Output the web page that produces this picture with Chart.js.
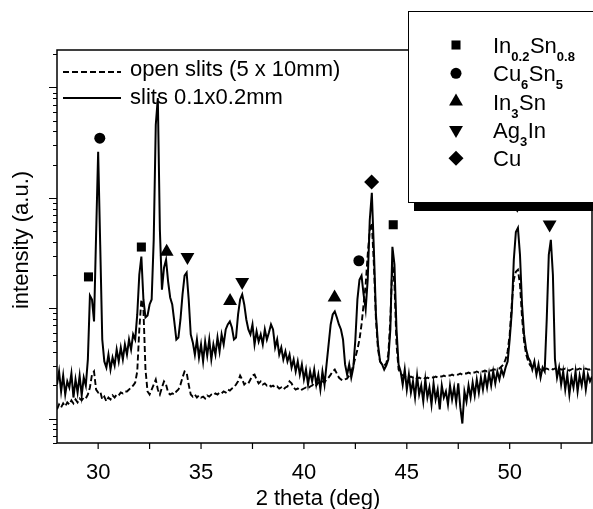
<!DOCTYPE html>
<html>
<head>
<meta charset="utf-8">
<script src="https://cdn.jsdelivr.net/npm/chart.js@4.4.1/dist/chart.umd.min.js"></script>
<style>
  html, body { margin: 0; padding: 0; background: #fff; }
  canvas { display: block; }
</style>
</head>
<body>
<canvas id="xrdChart" width="593" height="509"></canvas>
<script>
// both scans sampled from 28.0 to 54.0 deg, 0.1 deg apart
const thetaStart = 28.0;
const thetaStep = 0.1;

// slits 0.1x0.2mm (solid line), one row per degree (x.0 .. x.9)
const slitsNarrow = [
  2.03, 2.67, 1.76, 2.45, 1.65, 2.17, 1.91, 2.56, 1.55, 2.26, // 28
  1.72, 2.45, 1.62, 2.35, 1.99, 3.43, 13.0, 12.0, 7.58, 46.0, // 29
  261, 37.5, 5.20, 3.29, 2.90, 3.80, 2.78, 3.57, 3.02, 4.22,  // 30
  3.29, 4.40, 3.43, 4.69, 3.80, 5.20, 4.22, 5.78, 5.20, 8.77, // 31
  20.1, 29.3, 12.0, 8.24, 8.59, 10.8, 12.0, 41.6, 458, 803,   // 32
  51.1, 14.7, 23.3, 27.5, 17.4, 12.5, 10.8, 7.58, 5.20, 5.42, // 33
  7.90, 13.3, 19.7, 21.0, 12.0, 5.78, 4.89, 3.80, 5.20, 3.57, // 34
  4.69, 3.29, 4.99, 3.72, 5.20, 3.43, 4.69, 3.80, 5.42, 4.05, // 35
  5.78, 4.69, 6.41, 7.12, 7.58, 6.68, 5.20, 5.42, 8.77, 12.0, // 36
  13.3, 10.8, 7.90, 6.41, 5.78, 7.12, 4.69, 6.15, 4.99, 5.78, // 37
  4.69, 6.41, 5.20, 6.02, 7.12, 6.41, 4.40, 5.20, 3.80, 4.40, // 38
  3.43, 4.05, 3.29, 3.80, 2.90, 3.43, 2.67, 3.29, 2.50, 3.09, // 39
  2.26, 2.78, 2.03, 2.67, 2.17, 2.78, 2.03, 2.50, 1.83, 2.67, // 40
  2.03, 3.09, 4.69, 7.12, 8.77, 9.34, 8.24, 7.12, 6.41, 5.20, // 41
  3.09, 2.50, 3.09, 2.35, 2.90, 5.20, 12.0, 18.1, 19.7, 13.3, // 42
  9.74, 18.1, 63.0, 111, 33.8, 8.77, 4.69, 3.29, 3.09, 2.78,  // 43
  3.02, 3.43, 6.41, 36.0, 24.8, 6.41, 3.09, 2.67, 2.03, 2.78, // 44
  1.83, 2.50, 1.72, 2.17, 1.55, 2.45, 1.65, 1.99, 1.43, 2.26, // 45
  1.55, 1.91, 1.34, 2.08, 1.49, 1.83, 1.21, 1.99, 1.55, 1.76, // 46
  1.34, 1.99, 1.49, 1.91, 1.40, 2.08, 1.26, 0.901, 1.76, 1.43, // 47
  1.99, 1.55, 2.12, 1.62, 2.26, 1.72, 2.35, 1.83, 2.45, 1.91, // 48
  2.56, 1.99, 2.67, 2.08, 2.67, 2.26, 2.78, 2.45, 2.90, 3.29, // 49
  5.20, 9.14, 27.5, 49.0, 53.3, 30.5, 10.8, 5.78, 4.22, 3.57, // 50
  3.29, 2.78, 3.29, 2.50, 3.09, 2.35, 2.90, 2.67, 7.90, 30.5, // 51
  41.6, 20.1, 3.43, 2.35, 2.90, 2.03, 2.67, 1.83, 2.50, 1.65, // 52
  2.35, 1.91, 2.67, 1.76, 2.45, 1.99, 2.67, 1.83, 2.50, 2.17, // 53
  2.40                                                        // 54
];

// open slits (5 x 10mm), dashed line
const slitsOpen = [
  1.21, 1.34, 1.26, 1.37, 1.29, 1.40, 1.34, 1.46, 1.37, 1.49, // 28
  1.40, 1.52, 1.46, 1.55, 1.52, 1.65, 1.91, 2.50, 2.67, 1.83, // 29
  1.72, 1.76, 1.49, 1.58, 1.43, 1.55, 1.49, 1.62, 1.55, 1.65, // 30
  1.62, 1.72, 1.69, 1.76, 1.76, 1.83, 1.91, 1.99, 2.12, 2.67, // 31
  6.41, 12.0, 9.74, 2.78, 1.76, 1.65, 1.83, 2.03, 2.26, 1.83, // 32
  1.65, 1.91, 2.17, 2.03, 1.72, 1.65, 1.69, 1.65, 1.76, 1.83, // 33
  2.03, 2.35, 2.67, 2.61, 2.03, 1.65, 1.58, 1.65, 1.55, 1.62, // 34
  1.55, 1.58, 1.52, 1.62, 1.58, 1.65, 1.62, 1.69, 1.65, 1.72, // 35
  1.69, 1.76, 1.72, 1.83, 1.79, 1.87, 1.91, 2.03, 2.17, 2.45, // 36
  2.26, 2.03, 2.12, 2.08, 2.26, 2.45, 2.50, 2.26, 2.08, 2.17, // 37
  2.03, 2.08, 1.99, 2.03, 1.95, 1.99, 1.91, 1.95, 1.87, 1.91, // 38
  1.83, 1.91, 1.95, 2.17, 2.08, 1.91, 1.83, 1.87, 1.79, 1.83, // 39
  1.87, 1.91, 1.87, 1.95, 1.99, 2.08, 1.99, 2.12, 2.08, 2.17, // 40
  2.12, 2.26, 2.35, 2.50, 2.67, 2.78, 2.56, 2.35, 2.26, 2.21, // 41
  2.26, 2.30, 2.45, 2.67, 3.02, 3.57, 4.22, 5.20, 7.12, 10.8, // 42
  16.3, 30.5, 51.1, 59.2, 24.8, 7.90, 4.22, 3.29, 3.09, 3.02, // 43
  3.15, 3.80, 7.90, 25.8, 16.3, 4.69, 2.78, 2.56, 2.45, 2.40, // 44
  2.45, 2.35, 2.40, 2.35, 2.40, 2.30, 2.35, 2.30, 2.35, 2.30, // 45
  2.35, 2.30, 2.35, 2.35, 2.40, 2.35, 2.40, 2.40, 2.45, 2.40, // 46
  2.45, 2.45, 2.50, 2.45, 2.50, 2.50, 2.56, 2.50, 2.56, 2.56, // 47
  2.61, 2.56, 2.61, 2.61, 2.67, 2.61, 2.67, 2.67, 2.72, 2.67, // 48
  2.72, 2.72, 2.78, 2.78, 2.84, 2.84, 2.96, 3.09, 3.43, 4.05, // 49
  5.78, 10.8, 18.1, 21.4, 22.3, 16.3, 8.24, 4.99, 3.80, 3.29, // 50
  3.02, 2.90, 2.84, 2.78, 2.84, 2.78, 2.84, 2.78, 2.84, 2.78, // 51
  2.84, 2.78, 2.84, 2.78, 2.84, 2.78, 2.78, 2.84, 2.78, 2.72, // 52
  2.78, 2.84, 2.78, 2.78, 2.84, 2.78, 2.78, 2.84, 2.78, 2.78, // 53
  2.84                                                        // 54
];

const xTickValues = [30, 35, 40, 45, 50];
const xMinorTicks = [32.5, 37.5, 42.5, 47.5, 52.5];
const yDecades = [0.1, 1, 10, 100, 1000];

// phase markers: [2 theta, intensity]
const peaksInSn = [[29.53, 19.2], [32.10, 35.8], [44.34, 57.0]];
const peaksCu6Sn5 = [[30.08, 347], [42.67, 26.9]];
const peaksIn3Sn = [[33.33, 32.5], [36.41, 11.6], [41.49, 12.5]];
const peaksAg3In = [[34.34, 29.1], [37.0, 17.3], [50.37, 86.5], [51.94, 57.3]];
const peaksCu = [[43.29, 139]];

const FONT = '"Liberation Sans", Arial, sans-serif';

function scanPoints(values) {
    return values.map((v, i) => ({ x: +(thetaStart + i * thetaStep).toFixed(1), y: v }));
}

function markerSet(label, peaks, style, radius, rotation) {
    return {
        label: label,
        data: peaks.map(p => ({ x: p[0], y: p[1] })),
        showLine: false,
        pointStyle: style,
        pointRadius: radius,
        pointRotation: rotation || 0,
        pointBackgroundColor: '#000',
        pointBorderColor: '#000',
        pointBorderWidth: 0,
        order: 0,
    };
}

// legend box of the phases
const phaseLegend = [
    { style: 'rect', r: 6.4, rot: 0, parts: [['In'], ['0.2', 1], ['Sn'], ['0.8', 1]] },
    { style: 'circle', r: 5.5, rot: 0, parts: [['Cu'], ['6', 1], ['Sn'], ['5', 1]] },
    { style: 'triangle', r: 8, rot: 0, parts: [['In'], ['3', 1], ['Sn']] },
    { style: 'triangle', r: 8, rot: 180, parts: [['Ag'], ['3', 1], ['In']] },
    { style: 'rectRot', r: 7.5, rot: 0, parts: [['Cu']] },
];

function drawMarker(ctx, style, x, y, r, rot) {
    ctx.beginPath();
    if (style === 'circle') {
        ctx.arc(x, y, r, 0, Math.PI * 2);
    } else if (style === 'rect') {
        const s = r * Math.SQRT1_2;
        ctx.rect(x - s, y - s, 2 * s, 2 * s);
    } else if (style === 'rectRot') {
        ctx.moveTo(x - r, y);
        ctx.lineTo(x, y - r);
        ctx.lineTo(x + r, y);
        ctx.lineTo(x, y + r);
    } else {
        let a = rot * Math.PI / 180;
        for (let k = 0; k < 3; k++) {
            const px = x + Math.sin(a) * r, py = y - Math.cos(a) * r;
            if (k === 0) ctx.moveTo(px, py); else ctx.lineTo(px, py);
            a += Math.PI * 2 / 3;
        }
    }
    ctx.closePath();
    ctx.fill();
}

const frameAndLegends = {
    id: 'frameAndLegends',
    afterDraw(chart) {
        const { ctx, chartArea: a, scales: { x, y } } = chart;
        ctx.save();
        ctx.strokeStyle = '#000';
        ctx.fillStyle = '#000';

        // frame
        ctx.lineWidth = 1.5;
        ctx.strokeRect(a.left, a.top, a.right - a.left, a.bottom - a.top);

        // tick marks
        ctx.lineWidth = 1.2;
        ctx.beginPath();
        xTickValues.concat(xMinorTicks).forEach(v => {
            const px = x.getPixelForValue(v);
            ctx.moveTo(px, a.bottom);
            ctx.lineTo(px, a.bottom + 6);
        });
        yDecades.forEach(d => {
            for (let m = 1; m <= 9; m++) {
                const v = m * d;
                if (v < y.min || v > y.max) continue;
                const py = Math.round(y.getPixelForValue(v)) + 0.5;
                ctx.moveTo(a.left, py);
                ctx.lineTo(a.left - (m === 1 ? 8 : 4), py);
            }
        });
        ctx.stroke();

        // axis titles
        ctx.font = '22px ' + FONT;
        ctx.textAlign = 'center';
        ctx.textBaseline = 'alphabetic';
        ctx.fillText('2 theta (deg)', 318, 505);
        ctx.save();
        ctx.translate(28, 240);
        ctx.rotate(-Math.PI / 2);
        ctx.fillText('intensity (a.u.)', 0, 0);
        ctx.restore();

        // line legend, top left
        ctx.lineWidth = 1.8;
        ctx.setLineDash([6, 3]);
        ctx.beginPath();
        ctx.moveTo(63, 72);
        ctx.lineTo(121, 72);
        ctx.stroke();
        ctx.setLineDash([]);
        ctx.beginPath();
        ctx.moveTo(63, 98);
        ctx.lineTo(121, 98);
        ctx.stroke();
        ctx.textAlign = 'left';
        ctx.fillText('open slits (5 x 10mm)', 130, 76);
        ctx.fillText('slits 0.1x0.2mm', 130, 104);

        // phase legend box with shadow
        ctx.fillRect(414, 203, 200, 8);
        ctx.fillStyle = '#fff';
        ctx.fillRect(408.5, 11.5, 200, 191);
        ctx.lineWidth = 1;
        ctx.strokeRect(408.5, 11.5, 200, 191);
        ctx.fillStyle = '#000';
        phaseLegend.forEach((item, i) => {
            const rowY = 45 + i * 28.3;
            drawMarker(ctx, item.style, 456, rowY, item.r, item.rot);
            let tx = 493;
            item.parts.forEach(part => {
                const sub = part[1];
                ctx.font = sub ? 'bold 13px ' + FONT : '22px ' + FONT;
                ctx.fillText(part[0], tx, rowY + (sub ? 16 : 8));
                tx += ctx.measureText(part[0]).width + (sub ? 0.5 : 0);
            });
        });
        ctx.restore();
    }
};

const canvas = document.getElementById('xrdChart');

const data = {
    datasets: [
        {
            label: 'open slits (5 x 10mm)',
            data: scanPoints(slitsOpen),
            borderColor: '#000',
            borderWidth: 1.9,
            borderDash: [6, 3],
            pointRadius: 0,
            tension: 0,
            order: 1,
        },
        {
            label: 'slits 0.1x0.2mm',
            data: scanPoints(slitsNarrow),
            borderColor: '#000',
            borderWidth: 2,
            pointRadius: 0,
            tension: 0,
            order: 2,
        },
        markerSet('In0.2Sn0.8', peaksInSn, 'rect', 6.4),
        markerSet('Cu6Sn5', peaksCu6Sn5, 'circle', 5.5),
        markerSet('In3Sn', peaksIn3Sn, 'triangle', 8),
        markerSet('Ag3In', peaksAg3In, 'triangle', 8, 180),
        markerSet('Cu', peaksCu, 'rectRot', 7.5),
    ],
};

const config = {
    type: 'line',
    data: data,
    options: {
        responsive: false,
        animation: false,
        events: [],
        layout: {
            autoPadding: false,
            padding: { top: 50, right: 1, left: 0, bottom: 0 },
        },
        plugins: {
            legend: { display: false },
            tooltip: { enabled: false },
        },
        scales: {
            x: {
                type: 'linear',
                min: 28,
                max: 54,
                grid: { display: false, drawTicks: false },
                border: { display: false },
                afterBuildTicks: s => { s.ticks = xTickValues.map(v => ({ value: v })); },
                afterFit: s => {
                    s.height = 66;
                    s.paddingLeft = 0;
                    s.paddingRight = 0;
                },
                ticks: {
                    font: { family: FONT, size: 22 },
                    color: '#000',
                    padding: 17,
                    maxRotation: 0,
                    autoSkip: false,
                },
            },
            y: {
                type: 'logarithmic',
                min: 0.607,
                max: 2185,
                grid: { display: false, drawTicks: false },
                border: { display: false },
                ticks: { display: false },
                afterFit: s => {
                    s.width = 57;
                    s.paddingTop = 0;
                    s.paddingBottom = 0;
                },
            },
        },
    },
    plugins: [frameAndLegends],
};

new Chart(canvas, config);
</script>
</body>
</html>
